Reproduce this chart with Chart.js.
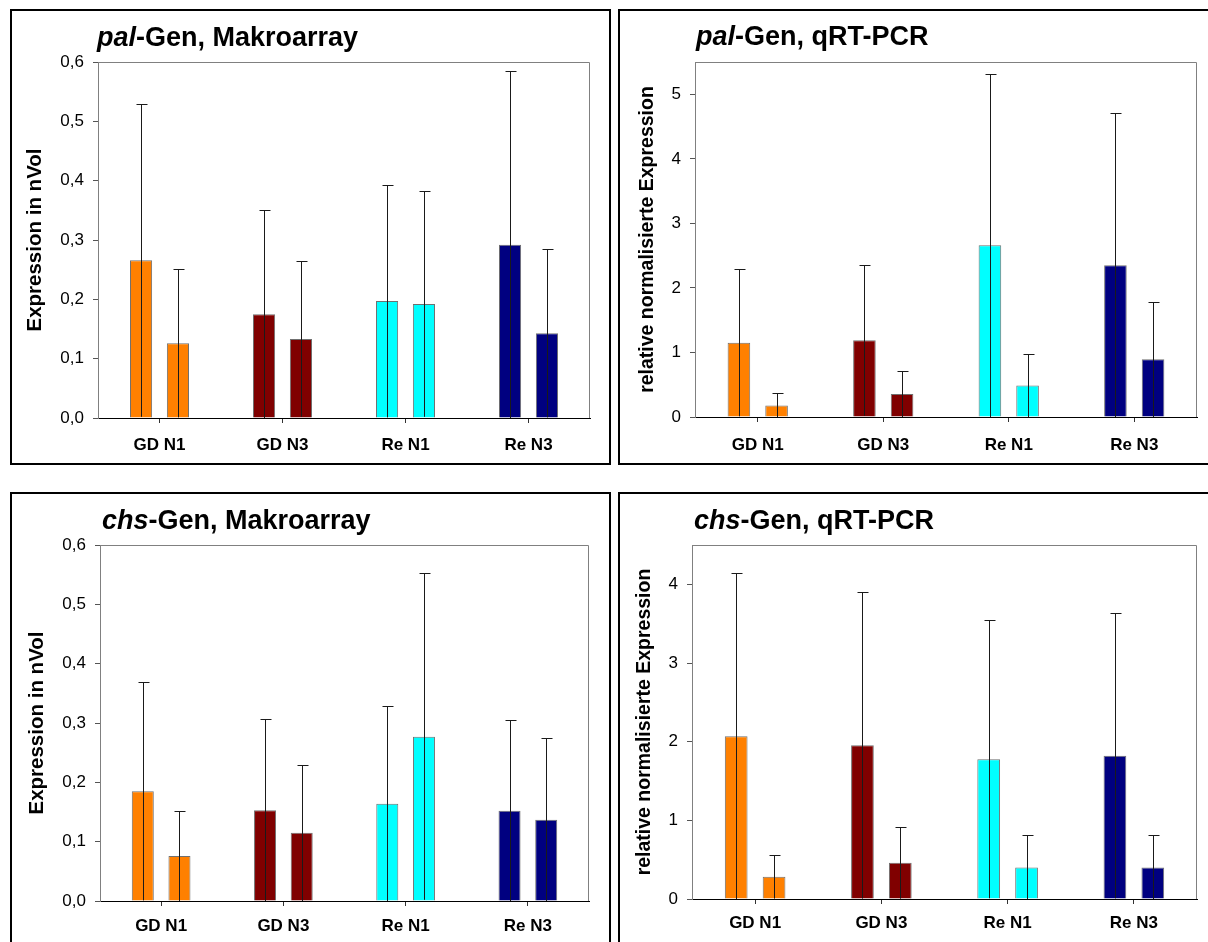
<!DOCTYPE html>
<html><head><meta charset="utf-8">
<script src="https://cdn.jsdelivr.net/npm/chart.js@4.4.0/dist/chart.umd.min.js"></script>
<style>
html,body{margin:0;padding:0;background:#fff;width:1208px;height:942px;overflow:hidden;position:relative;font-family:"Liberation Sans",Arial,sans-serif;}
.panel{position:absolute;box-sizing:border-box;border:2px solid #000;}
canvas{position:absolute;}
.title{position:absolute;font-weight:bold;font-size:27px;line-height:27px;white-space:nowrap;color:#000;}
</style></head><body>
<div class="panel" style="left:10px;top:9px;width:601px;height:456px"></div>
<div class="panel" style="left:618px;top:9px;width:600px;height:456px"></div>
<div class="panel" style="left:10px;top:492px;width:601px;height:500px"></div>
<div class="panel" style="left:618px;top:492px;width:600px;height:500px"></div>
<canvas id="c1"></canvas><canvas id="c2"></canvas><canvas id="c3"></canvas><canvas id="c4"></canvas>
<div class="title" style="left:97px;top:24px"><i>pal</i>-Gen, Makroarray</div>
<div class="title" style="left:696px;top:23px"><i>pal</i>-Gen, qRT-PCR</div>
<div class="title" style="left:102px;top:507px"><i>chs</i>-Gen, Makroarray</div>
<div class="title" style="left:694px;top:507px"><i>chs</i>-Gen, qRT-PCR</div>
<script>
// ---- data ----
const categories = ['GD N1', 'GD N3', 'Re N1', 'Re N3'];
const groupColors = ['#FF8000', '#800000', '#00FFFF', '#000080'];

const palMakroA = [0.266, 0.175, 0.197, 0.292];
const palMakroAErr = [0.264, 0.176, 0.196, 0.292];
const palMakroB = [0.126, 0.133, 0.192, 0.143];
const palMakroBErr = [0.125, 0.131, 0.190, 0.142];

const palPcrA = [1.15, 1.19, 2.66, 2.35];
const palPcrAErr = [1.14, 1.17, 2.66, 2.36];
const palPcrB = [0.18, 0.355, 0.488, 0.894];
const palPcrBErr = [0.185, 0.359, 0.488, 0.894];

const chsMakroA = [0.185, 0.153, 0.164, 0.152];
const chsMakroAErr = [0.184, 0.154, 0.165, 0.153];
const chsMakroB = [0.076, 0.115, 0.277, 0.137];
const chsMakroBErr = [0.076, 0.115, 0.275, 0.138];

const chsPcrA = [2.07, 1.956, 1.778, 1.82];
const chsPcrAErr = [2.074, 1.951, 1.769, 1.812];
const chsPcrB = [0.284, 0.461, 0.402, 0.402];
const chsPcrBErr = [0.279, 0.457, 0.406, 0.406];

const makroTickLabels = ['0,0', '0,1', '0,2', '0,3', '0,4', '0,5', '0,6'];
const palPcrTickLabels = ['0', '1', '2', '3', '4', '5'];
const chsPcrTickLabels = ['0', '1', '2', '3', '4'];

const makroTitle = 'Expression in nVol';
const pcrTitle = 'relative normalisierte Expression';

// ---- rendering ----
const FONT = '"Liberation Sans", Arial, sans-serif';
Chart.defaults.font.family = FONT;
Chart.defaults.color = '#000';

const errorBarPlugin = {
  id: 'errorBars',
  afterDatasetsDraw(chart, args, opts) {
    const ctx = chart.ctx, y = chart.scales.y;
    ctx.save();
    ctx.strokeStyle = opts.color;
    ctx.lineWidth = 1;
    chart.data.datasets.forEach((ds, i) => {
      const meta = chart.getDatasetMeta(i);
      meta.data.forEach((bar, j) => {
        const v = ds.data[j], e = opts.errors[i][j];
        const x = Math.round(bar.x) + 0.5;
        const yTop = Math.round(y.getPixelForValue(v + e)) + 0.5;
        const yBot = y.getPixelForValue(Math.max(0, v - e));
        ctx.beginPath();
        ctx.moveTo(x, yBot); ctx.lineTo(x, yTop);
        ctx.moveTo(x - opts.cap, yTop); ctx.lineTo(x + opts.cap + 1, yTop);
        ctx.stroke();
      });
    });
    ctx.restore();
  }
};
const framePlugin = {
  id: 'frame',
  beforeDatasetsDraw(chart, args, opts) {
    const {left, top, right, bottom} = chart.chartArea;
    const ctx = chart.ctx;
    ctx.save();
    ctx.strokeStyle = opts.color; ctx.lineWidth = 1;
    const t = Math.round(top) + 0.5, r = Math.round(right) - 0.5;
    ctx.beginPath();
    ctx.moveTo(left, t); ctx.lineTo(r, t); ctx.lineTo(r, bottom);
    ctx.stroke();
    ctx.restore();
  }
};

function makeChart(id, lay, a, aErr, b, bErr, yMax, step, tickLabels, yTitle) {
  const cv = document.getElementById(id);
  cv.style.left = lay.x + 'px'; cv.style.top = lay.y + 'px';
  cv.width = lay.w; cv.height = lay.h;
  const dsBase = {backgroundColor: groupColors, borderColor: '#707070', borderWidth: 1,
                  categoryPercentage: 0.6, barPercentage: 0.6};
  new Chart(cv, {
    type: 'bar',
    data: {labels: categories, datasets: [
      Object.assign({data: a}, dsBase),
      Object.assign({data: b}, dsBase)
    ]},
    plugins: [framePlugin, errorBarPlugin],
    options: {
      responsive: false, animation: false, devicePixelRatio: 1,
      layout: {padding: {top: lay.pt, right: lay.pr, left: 0, bottom: 0}},
      plugins: {
        legend: {display: false}, tooltip: {enabled: false}, title: {display: false},
        errorBars: {errors: [aErr, bErr], color: '#1a1a1a', cap: 5},
        frame: {color: '#808080'}
      },
      scales: {
        x: {
          offset: true,
          grid: {display: true, drawOnChartArea: false, drawTicks: true, tickLength: 5, offset: false, tickColor: '#333'},
          border: {display: true, color: '#000', width: 1},
          ticks: {color: '#000', font: {size: 17, weight: 'bold'}, padding: lay.xp, maxRotation: 0, autoSkip: false},
          afterFit: s => { s.height = lay.xh; }
        },
        y: {
          min: 0, max: yMax,
          grid: {display: true, drawOnChartArea: false, drawTicks: true, tickLength: 5, tickColor: '#555'},
          border: {display: true, color: '#808080', width: 1},
          ticks: {stepSize: step, includeBounds: false, color: '#000', font: {size: 17}, padding: 9,
                  callback: v => tickLabels[Math.round(v / step)]},
          title: {display: true, text: yTitle, color: '#000', font: {size: lay.ts, weight: 'bold'},
                  padding: {top: lay.tp, bottom: 0}},
          afterFit: s => { s.width = lay.yw; }
        }
      }
    }
  });
}

makeChart('c1', {x: 12, y: 11, w: 597, h: 452, pt: 51, pr: 19, yw: 86, xh: 45, xp: 12, ts: 20.5, tp: 11},
  palMakroA, palMakroAErr, palMakroB, palMakroBErr, 0.6, 0.1, makroTickLabels, makroTitle);
makeChart('c2', {x: 620, y: 11, w: 588, h: 452, pt: 51, pr: 11, yw: 75, xh: 46, xp: 13, ts: 19.5, tp: 16},
  palPcrA, palPcrAErr, palPcrB, palPcrBErr, 5.5, 1, palPcrTickLabels, pcrTitle);
makeChart('c3', {x: 12, y: 494, w: 597, h: 448, pt: 51, pr: 20, yw: 88, xh: 41, xp: 10, ts: 20.5, tp: 13},
  chsMakroA, chsMakroAErr, chsMakroB, chsMakroBErr, 0.6, 0.1, makroTickLabels, makroTitle);
makeChart('c4', {x: 620, y: 494, w: 588, h: 448, pt: 51, pr: 11, yw: 72, xh: 43, xp: 9, ts: 19.5, tp: 13},
  chsPcrA, chsPcrAErr, chsPcrB, chsPcrBErr, 4.5, 1, chsPcrTickLabels, pcrTitle);
</script>
</body></html>
